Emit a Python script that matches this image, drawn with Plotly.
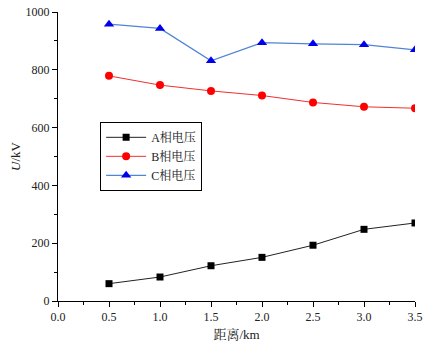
import plotly.graph_objects as go

distance_km = [0.5, 1.0, 1.5, 2.0, 2.5, 3.0, 3.5]
phase_a_kv = [60, 83, 122, 151, 193, 248, 270]
phase_b_kv = [779, 747, 727, 711, 687, 672, 667]
phase_c_kv = [958, 943, 831, 894, 890, 887, 869]
series_names = ["A相电压", "B相电压", "C相电压"]

FONT = "Liberation Serif, Noto Serif CJK SC, Noto Sans CJK SC, serif"

fig = go.Figure()
fig.add_trace(go.Scatter(
    x=distance_km, y=phase_a_kv, name=series_names[0], mode="lines+markers",
    line=dict(color="#222222", width=1),
    marker=dict(symbol="square", size=7, color="#000000"),
))
fig.add_trace(go.Scatter(
    x=distance_km, y=phase_b_kv, name=series_names[1], mode="lines+markers",
    line=dict(color="#f03030", width=1),
    marker=dict(symbol="circle", size=8, color="#ff0000"),
))
fig.add_trace(go.Scatter(
    x=distance_km, y=phase_c_kv, name=series_names[2], mode="lines+markers",
    line=dict(color="#4f84d6", width=1.3),
    marker=dict(symbol="triangle-up", size=9, color="#0000ee"),
))

axis_common = dict(
    showgrid=False, zeroline=False, showline=True, linecolor="#000000", linewidth=1,
    ticks="outside", ticklen=5, tickwidth=1, tickcolor="#000000",
    tickfont=dict(family=FONT, size=12, color="#222222"),
    automargin=False,
)

fig.update_xaxes(
    range=[0, 3.5], tick0=0, dtick=0.5, tickformat=".1f",
    minor=dict(ticks="outside", ticklen=3, dtick=0.25, tickcolor="#000000"),
    title=dict(text="距离/km", font=dict(family=FONT, size=13, color="#222222"), standoff=6),
    **axis_common,
)
fig.update_yaxes(
    range=[0, 1000], tick0=0, dtick=200,
    minor=dict(ticks="outside", ticklen=3, dtick=100, tickcolor="#000000"),
    title=dict(text="<i>U</i>/kV", font=dict(family=FONT, size=13, color="#222222"), standoff=2),
    **axis_common,
)

fig.update_layout(
    width=423, height=345,
    margin=dict(l=58, r=8, t=12, b=44),
    paper_bgcolor="#ffffff", plot_bgcolor="#ffffff",
    showlegend=True,
    legend=dict(
        x=0.118, y=0.62, xanchor="left", yanchor="top",
        bordercolor="#000000", borderwidth=1, bgcolor="#ffffff",
        font=dict(family=FONT, size=12, color="#222222"),
        tracegroupgap=0, itemwidth=40,
    ),
)

fig.write_html("out.html")
